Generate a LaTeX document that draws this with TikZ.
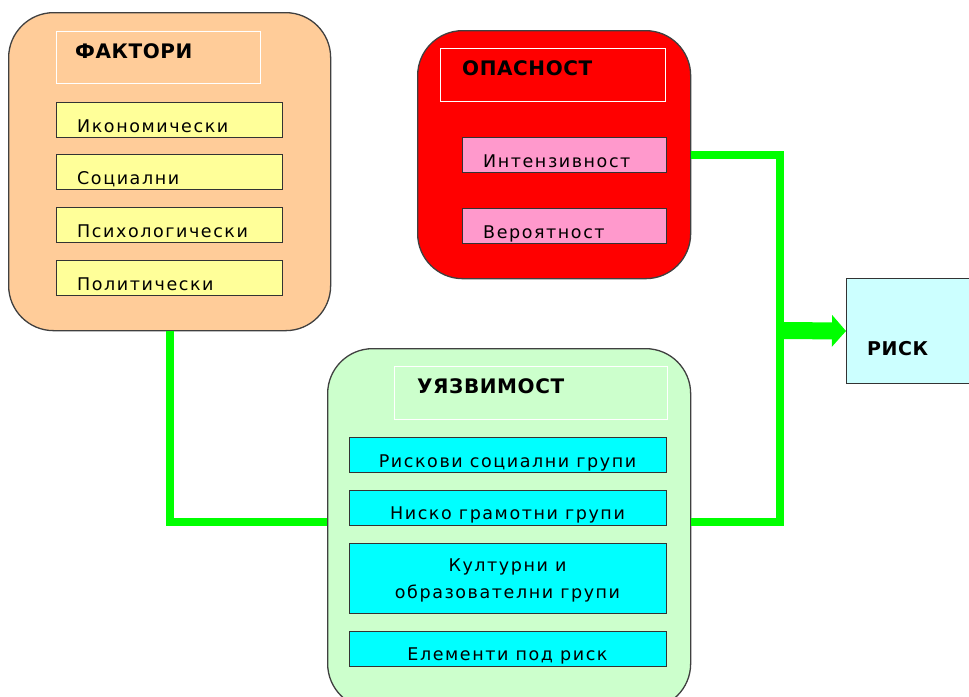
\documentclass[tikz,border=0pt]{standalone}
\usepackage{fontspec}
\setmainfont{DejaVu Sans}
\usetikzlibrary{arrows.meta}
\definecolor{peach}{HTML}{FFCC99}
\definecolor{yel}{HTML}{FFFF99}
\definecolor{hred}{HTML}{FF0000}
\definecolor{pinkb}{HTML}{FF99CC}
\definecolor{lgreen}{HTML}{CCFFCC}
\definecolor{cyanb}{HTML}{00FFFF}
\definecolor{lcyan}{HTML}{CCFFFF}
\definecolor{lime}{HTML}{00FF00}
\newfontfamily\itemfont[LetterSpace=9]{DejaVu Sans}
\newfontfamily\titlefont[LetterSpace=3]{DejaVu Sans Bold}
\tikzset{
  bigbox/.style={draw=black!75, line width=1.3pt, rounded corners=45pt, anchor=north west, inner sep=0pt},
  titlebox/.style={draw=white, line width=1pt, anchor=north west, inner sep=0pt},
  itembox/.style={draw=black!80, line width=1pt, anchor=north west, inner sep=0pt},
  ttl/.style={font=\titlefont\fontsize{20}{22}\selectfont, anchor=base west, inner sep=0pt},
  itm/.style={font=\itemfont\fontsize{17.5}{27}\selectfont, inner sep=0pt},
  conn/.style={draw=lime, line width=8pt}
}
\begin{document}
\begin{tikzpicture}[x=1pt,y=-1pt]
\useasboundingbox (0,0) rectangle (969,696);
% ФАКТОРИ
\node[bigbox, fill=peach, minimum width=322pt, minimum height=318pt] (fak) at (8,12) {};
\node[titlebox, minimum width=204pt, minimum height=52pt] (fakt) at (56,31) {};
\node[ttl] (fakl) at (75,58) {ФАКТОРИ};
\node[itembox, fill=yel, minimum width=226pt, minimum height=35pt] (y1) at (56,102) {};
\node[itembox, fill=yel, minimum width=226pt, minimum height=35pt] (y2) at (56,154) {};
\node[itembox, fill=yel, minimum width=226pt, minimum height=35pt] (y3) at (56,207) {};
\node[itembox, fill=yel, minimum width=226pt, minimum height=35pt] (y4) at (56,260) {};
\node[itm, anchor=base west] (ly1) at (77,132) {Икономически};
\node[itm, anchor=base west] (ly2) at (77,184) {Социални};
\node[itm, anchor=base west] (ly3) at (77,237) {Психологически};
\node[itm, anchor=base west] (ly4) at (77,290) {Политически};
% ОПАСНОСТ
\node[bigbox, fill=hred, minimum width=273pt, minimum height=248pt] (op) at (417,30) {};
\node[titlebox, minimum width=225pt, minimum height=53pt] (opt) at (440,48) {};
\node[ttl] (opl) at (462,75) {ОПАСНОСТ};
\node[itembox, fill=pinkb, minimum width=204pt, minimum height=35pt] (p1) at (462,137) {};
\node[itembox, fill=pinkb, minimum width=204pt, minimum height=35pt] (p2) at (462,208) {};
\node[itm, anchor=base west] (lp1) at (483,167) {Интензивност};
\node[itm, anchor=base west] (lp2) at (483,238) {Вероятност};
% УЯЗВИМОСТ
\node[bigbox, fill=lgreen, minimum width=363pt, minimum height=360pt] (uz) at (327,348) {};
\node[titlebox, minimum width=273pt, minimum height=53pt] (uzt) at (394,366) {};
\node[ttl] (uzl) at (417,393) {УЯЗВИМОСТ};
\node[itembox, fill=cyanb, minimum width=317pt, minimum height=35pt] (c1) at (349,437) {};
\node[itembox, fill=cyanb, minimum width=317pt, minimum height=35pt] (c2) at (349,490) {};
\node[itembox, fill=cyanb, minimum width=317pt, minimum height=70pt] (c3) at (349,543) {};
\node[itembox, fill=cyanb, minimum width=317pt, minimum height=35pt] (c4) at (349,631) {};
\node[itm, anchor=base] (lc1) at (507.5,467) {Рискови социални групи};
\node[itm, anchor=base] (lc2) at (507.5,519) {Ниско грамотни групи};
\node[itm, align=center, anchor=center] (lc3) at (507.5,580) {Културни и\\образователни групи};
\node[itm, anchor=base] (lc4) at (507.5,660) {Елементи под риск};
% РИСК
\node[itembox, fill=lcyan, minimum width=140pt, minimum height=105pt] (risk) at (846,278) {};
\node[font=\titlefont\fontsize{19}{21}\selectfont, anchor=base west, inner sep=0pt] (riskl) at (867,355) {РИСК};
% connectors
\coordinate (bus) at (780,330.5);
\draw[conn] (fak.south) |- (uz.west |- 0,522);
\draw[conn] (op.east) -| (bus) |- (uz.east |- 0,522);
\draw[draw=lime, line width=17pt, -{Triangle[length=14pt,width=31pt]}] (bus) -- (risk.west);
\end{tikzpicture}
\end{document}
